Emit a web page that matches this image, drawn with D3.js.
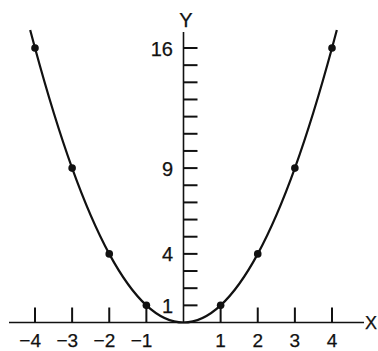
<!DOCTYPE html>
<html>
<head>
<meta charset="utf-8">
<script src="https://cdn.jsdelivr.net/npm/d3@7"></script>
<style>
  body { margin: 0; background: #fff; }
  svg text { font-family: "Liberation Sans", Arial, sans-serif; fill: #111; stroke: #111; stroke-width: 0.25; }
</style>
</head>
<body>
<svg id="chart" width="378" height="351"></svg>
<script>
// table of y = x squared
var xVals = [-4, -3, -2, -1, 0, 1, 2, 3, 4];
var yVals = [16, 9, 4, 1, 0, 1, 4, 9, 16];
// the curve runs a little past the last dots
var curveEndX = [-4.13, 4.13];
var curveEndY = [17.05, 17.05];
var xTickVals = [-4, -3, -2, -1, 0, 1, 2, 3, 4];
var xTickLabels = ["\u22124", "\u22123", "\u22122", "\u22121", "", "1", "2", "3", "4"];
var yTickVals = d3.range(1, 17);
var yLabelVals = [1, 4, 9, 16];

var svg = d3.select("#chart");
var x = d3.scaleLinear().domain([-4, 4]).range([35, 332]);
var y = d3.scaleLinear().domain([0, 16]).range([322.5, 48]);
var ink = "#111";

// x axis line and ticks
svg.append("line")
  .attr("x1", 9).attr("x2", 364)
  .attr("y1", y(0)).attr("y2", y(0))
  .attr("stroke", ink).attr("stroke-width", 1.6);

svg.selectAll(".xtick").data(xTickVals.filter(function(d){ return d !== 0; }))
  .enter().append("line")
  .attr("class", "xtick")
  .attr("x1", function(d){ return x(d); }).attr("x2", function(d){ return x(d); })
  .attr("y1", y(0))
  .attr("y2", function(d){ return Math.abs(d) === 1 ? y(1) : y(0) - 15; })
  .attr("stroke", ink).attr("stroke-width", 2);

svg.selectAll(".xlab").data(xTickVals)
  .enter().append("text")
  .attr("class", "xlab")
  .attr("x", function(d){ return d < 0 ? x(d) + 6 : x(d); })
  .attr("y", 347)
  .attr("text-anchor", function(d){ return d < 0 ? "end" : "middle"; })
  .attr("font-size", 19)
  .text(function(d, i){ return xTickLabels[i]; });

svg.append("text")
  .attr("x", 365).attr("y", y(0) + 6.5)
  .attr("font-size", 18)
  .text("X");

// y axis line and ticks
svg.append("line")
  .attr("x1", x(0)).attr("x2", x(0))
  .attr("y1", 32).attr("y2", y(0))
  .attr("stroke", ink).attr("stroke-width", 1.6);

svg.selectAll(".ytick").data(yTickVals)
  .enter().append("line")
  .attr("class", "ytick")
  .attr("x1", x(0)).attr("x2", x(0) + 14)
  .attr("y1", function(d){ return y(d); }).attr("y2", function(d){ return y(d); })
  .attr("stroke", ink).attr("stroke-width", 2);

svg.selectAll(".ylab").data(yLabelVals)
  .enter().append("text")
  .attr("class", "ylab")
  .attr("x", x(0) - 10.5)
  .attr("y", function(d){ return y(d) + 7.5; })
  .attr("text-anchor", "end")
  .attr("font-size", 20)
  .text(function(d){ return d; });

svg.append("text")
  .attr("x", x(0) + 2.5).attr("y", 27)
  .attr("text-anchor", "middle")
  .attr("font-size", 20)
  .text("Y");

// the parabola through the table points
var pts = [[curveEndX[0], curveEndY[0]]];
for (var i = 0; i < xVals.length; i++) pts.push([xVals[i], yVals[i]]);
pts.push([curveEndX[1], curveEndY[1]]);

var line = d3.line()
  .x(function(d){ return x(d[0]); })
  .y(function(d){ return y(d[1]); })
  .curve(d3.curveMonotoneX);

svg.append("path")
  .datum(pts)
  .attr("d", line)
  .attr("fill", "none")
  .attr("stroke", ink).attr("stroke-width", 2.2);

svg.selectAll(".dot").data(xVals.filter(function(d){ return d !== 0; }))
  .enter().append("circle")
  .attr("class", "dot")
  .attr("cx", function(d){ return x(d); })
  .attr("cy", function(d){ return y(yVals[xVals.indexOf(d)]); })
  .attr("r", 3.8)
  .attr("fill", ink);
</script>
</body>
</html>
